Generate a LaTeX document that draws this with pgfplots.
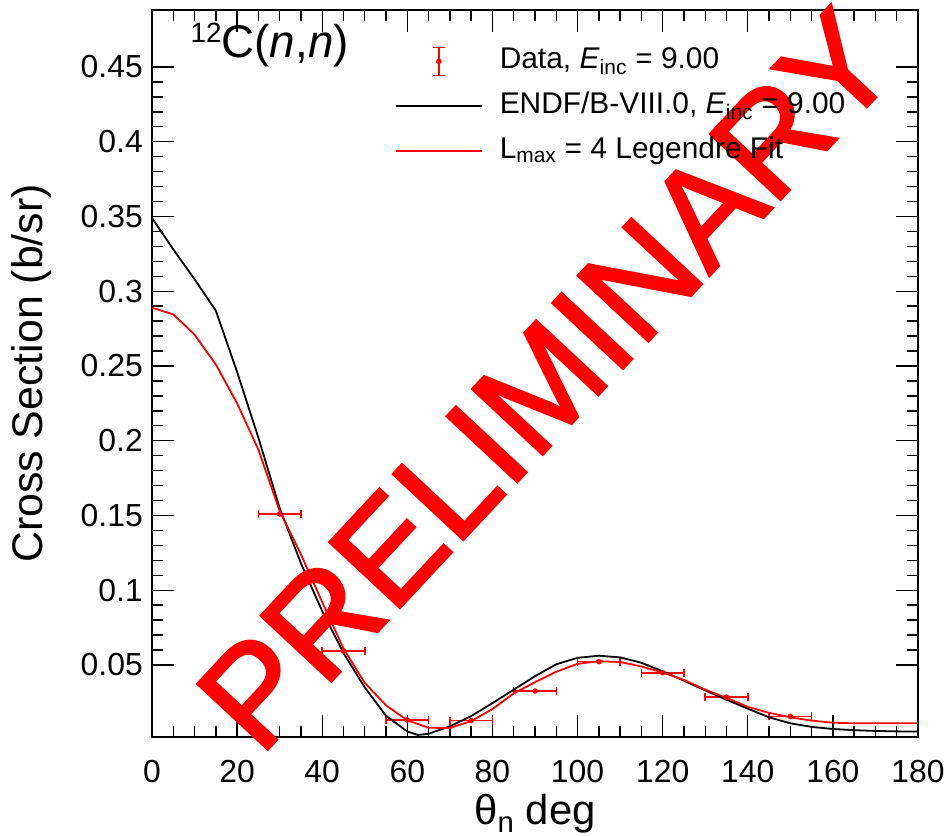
\documentclass[border=0pt]{standalone}
\usepackage{fontspec}
\setmainfont{Liberation Sans}
\newfontfamily\wmfont[FakeBold=2]{Liberation Sans}
\usepackage{pgfplots}
\pgfplotsset{compat=1.18}

\pgfplotstableread{
x y ex
30  0.151  5
45  0.0594 5
60  0.0132 5
75  0.0128 5
90  0.0326 5
105 0.0522 5
120 0.0448 5
135 0.0285 5
150 0.0156 5
}\datatab

\pgfplotstableread{
x y
0 0.349
5 0.328
10 0.308
15 0.287
20 0.246
25 0.202
30 0.155
35 0.118
40 0.086
45 0.058
50 0.035
55 0.016
60 0.0055
62.5 0.0032
65 0.0040
70 0.0090
75 0.0158
80 0.0245
85 0.0335
90 0.0425
95 0.0505
100 0.0548
105 0.0562
110 0.0551
115 0.0515
120 0.0458
125 0.0395
130 0.0330
135 0.0268
140 0.0208
145 0.0150
150 0.0110
155 0.0086
160 0.0072
165 0.0064
170 0.0059
175 0.0056
180 0.0055
}\endftab

\pgfplotstableread{
x y
0 0.289
5 0.2845
10 0.271
15 0.251
20 0.225
25 0.194
30 0.153
35 0.124
40 0.092
45 0.061
50 0.038
55 0.023
60 0.013
65 0.0080
70 0.0079
75 0.0125
80 0.0205
85 0.0310
90 0.0385
95 0.0455
100 0.0508
105 0.0525
110 0.0520
115 0.0490
120 0.0450
125 0.0400
130 0.0335
135 0.0280
140 0.0220
145 0.0180
150 0.0150
155 0.0128
160 0.0114
165 0.0110
170 0.0110
175 0.0110
180 0.0110
}\fittab

\begin{document}
\begin{tikzpicture}
\begin{axis}[
  scale only axis,
  width=766bp, height=727bp,
  xmin=0, xmax=180,
  ymin=0.00184, ymax=0.4881,
  clip=false,
  axis line style={line width=1.6bp},
  every tick/.style={black, line width=1.4bp},
  tick align=inside, tick pos=both,
  major tick length=22bp, minor tick length=11bp,
  xtick={0,20,...,180},
  ytick={0.05,0.1,0.15,0.2,0.25,0.3,0.35,0.4,0.45},
  minor x tick num=3, minor y tick num=4,
  scaled y ticks=false,
  /pgf/number format/assume math mode=true,
  yticklabel style={/pgf/number format/fixed, font=\fontsize{32}{38}\selectfont, anchor=east, inner sep=0pt, xshift=-9bp},
  xticklabel style={font=\fontsize{32}{38}\selectfont, anchor=north, inner sep=0pt, yshift=-23bp},
  xlabel={θ\textsubscript{n} deg},
  ylabel={Cross Section (b/sr)},
  x label style={font=\fontsize{42}{48}\selectfont, at={(axis description cs:0.5,-0.121)}, anchor=base},
  y label style={font=\fontsize{43}{48}\selectfont, at={(axis description cs:-0.1423,0.5)}, anchor=base, rotate=0},
  legend style={draw=none, fill=none, at={(axis description cs:0.3172,0.9500)}, anchor=north west,
    font=\fontsize{30}{36}\selectfont, inner sep=0pt, outer sep=0pt, row sep=15bp,
    nodes={inner sep=0pt, text height=22bp, text depth=8bp},
    /tikz/every odd column/.append style={column sep=17bp}},
  legend cell align=left,
]
\coordinate (sw) at (rel axis cs:0,0);
\coordinate (ne) at (rel axis cs:1,1);

\addplot[red, only marks, mark=*, mark size=2.5bp,
  error bars/.cd, x dir=both, x explicit, error mark=|,
  error bar style={line width=1.5bp, red},
  error mark options={line width=1.5bp, mark size=4bp, red}]
  table[x=x, y=y, x error=ex] {\datatab};
\addlegendentry{Data, \textit{E}\textsubscript{inc} = 9.00}
\pgfplotsset{legend image code/.code={
  \draw[red, line width=1.5bp] (43bp,-14bp)--(43bp,14bp) (37bp,-14bp)--(49bp,-14bp) (37bp,14bp)--(49bp,14bp);
  \fill[red] (43bp,0bp) circle (2.5bp);}}

\addplot[black, line width=1.8bp, legend image code/.code={\draw[black, line width=1.8bp] (0bp,0bp)--(86bp,0bp);}] table[x=x, y=y] {\endftab};
\addlegendentry{ENDF/B-VIII.0, \textit{E}\textsubscript{inc} = 9.00}

\addplot[red, line width=1.8bp, legend image code/.code={\draw[red, line width=1.8bp] (0bp,0bp)--(86bp,0bp);}] table[x=x, y=y] {\fittab};
\addlegendentry{L\textsubscript{max} = 4 Legendre Fit}

\node[anchor=base west, font=\fontsize{46}{46}\selectfont, inner sep=0pt] at (rel axis cs:0.050,0.9353)
  {{\fontsize{28}{28}\selectfont\raisebox{15bp}{12}}C(\textit{n},\textit{n})};

\node[red, rotate=47, font=\wmfont\fontsize{140}{140}\selectfont, inner sep=0pt] at (rel axis cs:0.515,0.491) {PRELIMINARY};
\end{axis}
\pgfresetboundingbox
\path[use as bounding box] ([xshift=-152bp,yshift=-99bp]sw) rectangle ([xshift=31bp,yshift=10bp]ne);
\end{tikzpicture}
\end{document}
